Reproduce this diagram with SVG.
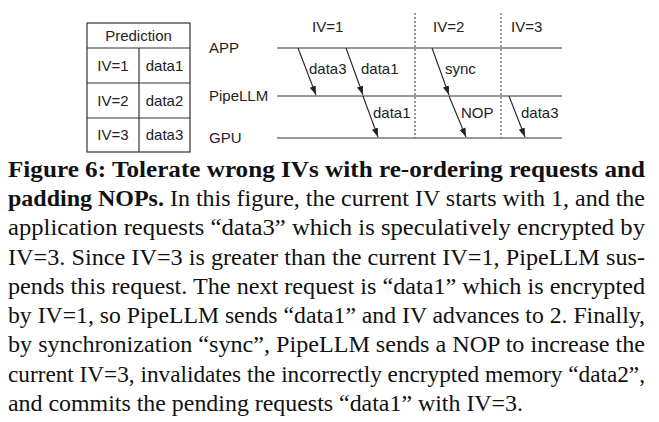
<svg xmlns="http://www.w3.org/2000/svg" width="659" height="422" viewBox="0 0 659 422">
<style>
.s{font-family:"Liberation Sans",Arial,sans-serif;font-size:15px;fill:#222}
.c{text-anchor:middle}
.ln{stroke:#333;stroke-width:1.2;fill:none}
.dl{stroke:#555;stroke-width:1.2;stroke-dasharray:2,2;fill:none}
.ar{stroke:#222;stroke-width:1.1;fill:none;marker-end:url(#ah)}
.cap{font-family:"Liberation Serif","Times New Roman",serif;font-size:23px;fill:#111}
.b{font-weight:bold}
</style>
<defs>
<marker id="ah" viewBox="0 0 10 10" refX="10" refY="5" markerWidth="9" markerHeight="9" markerUnits="userSpaceOnUse" orient="auto">
<path d="M0,1.5 L10,5 L0,8.5 Z" fill="#222"/>
</marker>
</defs>
<rect width="659" height="422" fill="#fff"/>
<g id="prediction_table">
<rect x="87" y="23" width="103" height="129" fill="#fff" stroke="#333" stroke-width="1.2"/>
<line class="ln" x1="87" y1="48" x2="190" y2="48"/>
<line class="ln" x1="87" y1="83" x2="190" y2="83"/>
<line class="ln" x1="87" y1="118" x2="190" y2="118"/>
<line class="ln" x1="139" y1="48" x2="139" y2="152"/>
<text class="s c" x="138.5" y="41">Prediction</text>
<text class="s c" x="113" y="71">IV=1</text>
<text class="s c" x="164.5" y="71">data1</text>
<text class="s c" x="113" y="106">IV=2</text>
<text class="s c" x="164.5" y="106">data2</text>
<text class="s c" x="113" y="140">IV=3</text>
<text class="s c" x="164.5" y="140">data3</text>
</g>
<g id="lane_app">
<text class="s" x="209" y="53">APP</text>
<line class="ln" x1="277" y1="48" x2="562" y2="48"/>
</g>
<g id="lane_pipellm">
<text class="s" x="209" y="101">PipeLLM</text>
<line class="ln" x1="277" y1="96" x2="562" y2="96"/>
</g>
<g id="lane_gpu">
<text class="s" x="209" y="143">GPU</text>
<line class="ln" x1="277" y1="138" x2="562" y2="138"/>
</g>
<g id="iv_phases">
<text class="s" x="312" y="32">IV=1</text>
<text class="s" x="433" y="32">IV=2</text>
<text class="s" x="511" y="32">IV=3</text>
<line class="dl" x1="415" y1="13" x2="415" y2="138"/>
<line class="dl" x1="501" y1="13" x2="501" y2="138"/>
</g>
<g id="connectors">
<line class="ar" x1="298" y1="48" x2="316" y2="95"/>
<text class="s" x="309" y="74">data3</text>
<line class="ar" x1="346" y1="48" x2="363" y2="95"/>
<text class="s" x="361" y="74">data1</text>
<line class="ar" x1="363" y1="96" x2="378" y2="137"/>
<text class="s" x="373" y="118">data1</text>
<line class="ar" x1="432" y1="48" x2="449" y2="95"/>
<text class="s" x="445" y="74">sync</text>
<line class="ar" x1="449" y1="96" x2="466" y2="137"/>
<text class="s" x="461" y="118">NOP</text>
<line class="ar" x1="509" y1="96" x2="525" y2="137"/>
<text class="s" x="521" y="118">data3</text>
</g>
<g id="caption">
<text class="cap b" x="8" y="177" textLength="637" lengthAdjust="spacingAndGlyphs">Figure 6: Tolerate wrong IVs with re-ordering requests and</text>
<text class="cap" x="8" y="206" textLength="637" lengthAdjust="spacingAndGlyphs"><tspan class="b">padding NOPs.</tspan> In this figure, the current IV starts with 1, and the</text>
<text class="cap" x="8" y="235" textLength="637" lengthAdjust="spacingAndGlyphs">application requests “data3” which is speculatively encrypted by</text>
<text class="cap" x="8" y="265" textLength="637" lengthAdjust="spacingAndGlyphs">IV=3. Since IV=3 is greater than the current IV=1, PipeLLM sus-</text>
<text class="cap" x="8" y="294" textLength="637" lengthAdjust="spacingAndGlyphs">pends this request. The next request is “data1” which is encrypted</text>
<text class="cap" x="8" y="323" textLength="637" lengthAdjust="spacingAndGlyphs">by IV=1, so PipeLLM sends “data1” and IV advances to 2. Finally,</text>
<text class="cap" x="8" y="352" textLength="637" lengthAdjust="spacingAndGlyphs">by synchronization “sync”, PipeLLM sends a NOP to increase the</text>
<text class="cap" x="8" y="382" textLength="637" lengthAdjust="spacingAndGlyphs">current IV=3, invalidates the incorrectly encrypted memory “data2”,</text>
<text class="cap" x="8" y="411" textLength="515" lengthAdjust="spacingAndGlyphs">and commits the pending requests “data1” with IV=3.</text>
</g>
</svg>
